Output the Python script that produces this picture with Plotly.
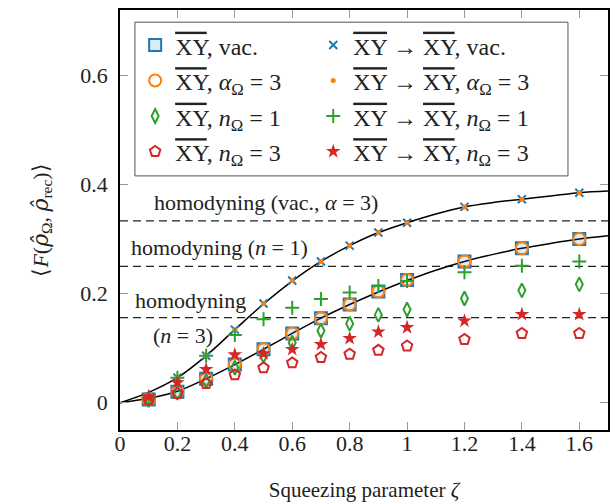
import plotly.graph_objects as go

# ---- data ----
zeta = [0.1, 0.2, 0.3, 0.4, 0.5, 0.6, 0.7, 0.8, 0.9, 1.0, 1.2, 1.4, 1.6]

xy_vac      = [0.006, 0.020, 0.044, 0.070, 0.098, 0.127, 0.155, 0.180, 0.204, 0.225, 0.259, 0.283, 0.300]
xy_alpha3   = [0.006, 0.020, 0.044, 0.070, 0.098, 0.127, 0.155, 0.180, 0.204, 0.225, 0.259, 0.283, 0.300]
xy_n1       = [0.005, 0.018, 0.040, 0.064, 0.086, 0.110, 0.132, 0.145, 0.161, 0.171, 0.191, 0.206, 0.217]
xy_n3       = [0.005, 0.017, 0.035, 0.051, 0.064, 0.073, 0.083, 0.089, 0.096, 0.104, 0.116, 0.127, 0.127]

xyxy_vac    = [0.011, 0.046, 0.086, 0.134, 0.182, 0.224, 0.259, 0.288, 0.312, 0.330, 0.359, 0.373, 0.385]
xyxy_alpha3 = [0.011, 0.046, 0.086, 0.134, 0.182, 0.224, 0.259, 0.288, 0.312, 0.330, 0.359, 0.373, 0.385]
xyxy_n1     = [0.010, 0.046, 0.086, 0.124, 0.153, 0.174, 0.190, 0.202, 0.214, 0.223, 0.239, 0.251, 0.259]
xyxy_n3     = [0.011, 0.037, 0.061, 0.088, 0.090, 0.098, 0.107, 0.118, 0.130, 0.138, 0.150, 0.162, 0.162]

curve_x     = [0, 0.1, 0.2, 0.3, 0.4, 0.5, 0.6, 0.7, 0.8, 0.9, 1.0, 1.1, 1.2, 1.3, 1.4, 1.5, 1.6, 1.7]
curve_upper = [0, 0.019, 0.046, 0.086, 0.134, 0.181, 0.223, 0.259, 0.288, 0.312, 0.330, 0.346, 0.359, 0.367, 0.373, 0.379, 0.385, 0.388]
curve_lower = [0, 0.008, 0.021, 0.044, 0.070, 0.098, 0.127, 0.155, 0.180, 0.203, 0.224, 0.243, 0.259, 0.272, 0.283, 0.292, 0.300, 0.306]

homodyne_levels = [1/3, 1/4, 0.156]

x_ticks = [0, 0.2, 0.4, 0.6, 0.8, 1.0, 1.2, 1.4, 1.6]
x_tick_text = ["0", "0.2", "0.4", "0.6", "0.8", "1", "1.2", "1.4", "1.6"]
y_ticks = [0, 0.2, 0.4, 0.6]
y_tick_text = ["0", "0.2", "0.4", "0.6"]

BLUE, ORANGE, GREEN, RED = "#1f77b4", "#ff7f0e", "#2ca02c", "#d62728"
FONT = "Liberation Serif"

OV = '<span style="text-decoration:overline">XY</span>'
def lab(s):
    return '<span style="font-size:24px">' + s + '</span>'

labels = [
    OV + ", vac.",
    OV + " → " + OV + ", vac.",
    OV + ", <i>α</i><sub>Ω</sub> = 3",
    OV + " → " + OV + ", <i>α</i><sub>Ω</sub> = 3",
    OV + ", <i>n</i><sub>Ω</sub> = 1",
    OV + " → " + OV + ", <i>n</i><sub>Ω</sub> = 1",
    OV + ", <i>n</i><sub>Ω</sub> = 3",
    OV + " → " + OV + ", <i>n</i><sub>Ω</sub> = 3",
]

fig = go.Figure()

# theory curves
for cy in (curve_upper, curve_lower):
    fig.add_trace(go.Scatter(x=curve_x, y=cy, mode="lines", line=dict(color="black", width=1.5, shape="spline"),
                             showlegend=False, hoverinfo="skip"))

series = [
    (xy_vac, dict(symbol="square", size=12, color="rgba(31,119,180,0.15)", line=dict(color=BLUE, width=2))),
    (xyxy_vac, dict(symbol="x-thin-open", size=8, color=BLUE, line=dict(color=BLUE, width=2))),
    (xy_alpha3, dict(symbol="circle-open", size=12, color=ORANGE, line=dict(color=ORANGE, width=2))),
    (xyxy_alpha3, dict(symbol="circle", size=5, color=ORANGE, line=dict(width=0))),
    (xy_n1, dict(symbol="diamond-tall-open", size=10, color=GREEN, line=dict(color=GREEN, width=2))),
    (xyxy_n1, dict(symbol="cross-thin-open", size=10, color=GREEN, line=dict(color=GREEN, width=2))),
    (xy_n3, dict(symbol="pentagon-open", size=11, color=RED, line=dict(color=RED, width=2))),
    (xyxy_n3, dict(symbol="star", size=11, color=RED, line=dict(width=0))),
]
for i, ((ys, mk), name) in enumerate(zip(series, labels)):
    fig.add_trace(go.Scatter(x=zeta, y=ys, mode="markers", marker=mk, name=lab(name),
                             legend="legend" if i % 2 == 0 else "legend2"))

for lv in homodyne_levels:
    fig.add_shape(type="line", xref="paper", x0=0, x1=1, yref="y", y0=lv, y1=lv,
                  line=dict(color="#222", width=1.2, dash="8px,5px"), layer="below")

# legend frame
fig.add_shape(type="rect", xref="paper", yref="paper", x0=0.0306, x1=0.918, y0=0.605, y1=0.971,
              fillcolor="white", line=dict(color="#555", width=1), layer="above")

ann_font = dict(family=FONT, size=22, color="#222")
fig.add_annotation(x=0.507, y=0.367, text="homodyning (vac., <i>α</i> = 3)", showarrow=False, font=ann_font)
fig.add_annotation(x=0.348, y=0.285, text="homodyning (<i>n</i> = 1)", showarrow=False, font=ann_font)
fig.add_annotation(x=0.246, y=0.187, text="homodyning", showarrow=False, font=ann_font)
fig.add_annotation(x=0.22, y=0.124, text="(<i>n</i> = 3)", showarrow=False, font=ann_font)

axis_common = dict(showline=True, linecolor="black", linewidth=1.5, mirror="ticks", ticks="inside",
                   ticklen=8, tickcolor="#999", tickwidth=1, showgrid=False, zeroline=False,
                   tickfont=dict(family=FONT, size=22, color="#222"))

fig.update_xaxes(range=[0, 1.7], tickvals=x_ticks, ticktext=x_tick_text, ticklabelstandoff=-7,
                 title=dict(text="Squeezing parameter <i>ζ</i>", font=dict(family=FONT, size=21, color="#222"), standoff=27),
                 **axis_common)
RHO = '<span style="font-family:DejaVu Serif"><i>ρ̂</i></span>'
fig.update_yaxes(range=[-0.05, 0.72], tickvals=y_ticks, ticktext=y_tick_text, ticklabelstandoff=6,
                 title=dict(text="⟨<i>F</i>(" + RHO + "<sub>Ω</sub>, " + RHO + "<sub>rec</sub>)⟩",
                            font=dict(family=FONT, size=22, color="#222"), standoff=26),
                 **axis_common)

leg_common = dict(orientation="v", yanchor="top", xanchor="left", y=0.971,
                  bgcolor="rgba(0,0,0,0)", borderwidth=0,
                  font=dict(family=FONT, size=25, color="#222"), itemwidth=30)
fig.update_layout(
    width=616, height=504,
    margin=dict(l=120, r=6, t=10, b=72),
    plot_bgcolor="white", paper_bgcolor="white",
    font=dict(family=FONT, color="#222"),
    legend=dict(x=0.031, **leg_common),
    legend2=dict(x=0.396, **leg_common),
)

fig.write_html("out.html")
